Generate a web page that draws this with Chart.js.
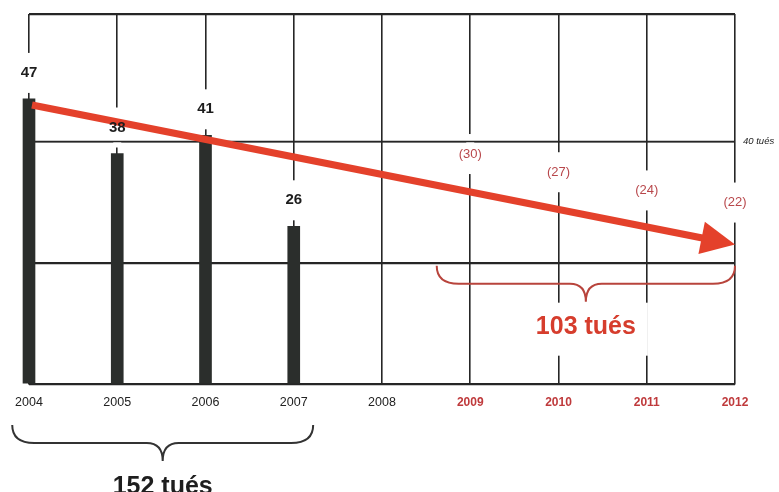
<!DOCTYPE html>
<html lang="fr">
<head>
<meta charset="utf-8">
<script src="https://cdn.jsdelivr.net/npm/chart.js@4.4.1/dist/chart.umd.min.js"></script>
<style>
  html, body { margin: 0; padding: 0; background: #fff; }
  #wrap { width: 779px; height: 492px; }
</style>
</head>
<body>
<div id="wrap"><canvas id="c" width="779" height="492"></canvas></div>
<script>
// Road deaths per year: recorded (2004-2007) and yearly targets (2009-2012)
const years = ['2004', '2005', '2006', '2007', '2008', '2009', '2010', '2011', '2012'];
const killed = [47, 38, 41, 26, null, null, null, null, null];
const targets = [null, null, null, null, null, 30, 27, 24, 22];
const trendEnds = [46, 23];            // trend arrow level in 2004 and in 2012
const gridValues = [0, 20, 40];
const yMax = 61;
const refLineValue = 40;
const refLineLabel = '40 tués';
const pastTotalLabel = '152 tués';
const futureTotalLabel = '103 tués';

const FONT = '"Liberation Sans", Arial, Helvetica, sans-serif';
const LINE = '#262626';
const BAR = '#2b2e2c';
const ARROW = '#e4412b';
const TARGET_RED = '#b8474b';
const TICK_RED = '#bf3a3c';
const BRACE_RED = '#b8443c';
const TOTAL_RED = '#d63d2d';

const firstTarget = targets.findIndex(v => v !== null);
const lastRecorded = killed.reduce((a, v, i) => (v !== null ? i : a), 0);

const BAR_LABEL_LIFT = 26;
const TARGET_LABEL_LIFT = 48;

function brace(ctx, x1, x2, top, color) {
  const mid = top + 18, tip = top + 36, xc = (x1 + x2) / 2;
  const r = 22, r2 = 16;
  ctx.save();
  ctx.strokeStyle = color;
  ctx.lineWidth = 2;
  ctx.beginPath();
  ctx.moveTo(x1, top);
  ctx.quadraticCurveTo(x1, mid, x1 + r, mid);
  ctx.lineTo(xc - r2, mid);
  ctx.quadraticCurveTo(xc, mid, xc, tip);
  ctx.quadraticCurveTo(xc, mid, xc + r2, mid);
  ctx.lineTo(x2 - r, mid);
  ctx.quadraticCurveTo(x2, mid, x2, top);
  ctx.stroke();
  ctx.restore();
}

const annotate = {
  id: 'annotate',
  beforeDatasetsDraw(chart) {
    const { ctx, chartArea } = chart;
    const x = chart.scales.x, y = chart.scales.y;
    ctx.save();
    ctx.fillStyle = '#fff';
    // breaks in the vertical rules around the value labels
    killed.forEach((v, i) => {
      if (v === null) return;
      const cy = y.getPixelForValue(v) - BAR_LABEL_LIFT;
      ctx.fillRect(x.getPixelForValue(i) - 4, cy - 20, 8, 40);
    });
    targets.forEach((v, i) => {
      if (v === null) return;
      const cy = y.getPixelForValue(v) - TARGET_LABEL_LIFT;
      ctx.fillRect(x.getPixelForValue(i) - 4, cy - 20, 8, 40);
    });
    // clear space behind the future total
    const step = x.getPixelForValue(1) - x.getPixelForValue(0);
    const bx1 = x.getPixelForValue(firstTarget) - 0.38 * step;
    const bx2 = x.getPixelForValue(years.length - 1);
    const btop = y.getPixelForValue(20) + 3;
    ctx.font = 'bold 25px ' + FONT;
    const tw = ctx.measureText(futureTotalLabel).width;
    ctx.fillRect((bx1 + bx2) / 2 - tw / 2 - 12, btop + 37, tw + 24, 53);
    // horizontal rules stay whole
    ctx.strokeStyle = LINE;
    ctx.lineWidth = 1.6;
    gridValues.concat([yMax]).forEach(v => {
      const py = Math.round(y.getPixelForValue(v)) + 0.5;
      ctx.beginPath();
      ctx.moveTo(chartArea.left, py);
      ctx.lineTo(chartArea.right, py);
      ctx.stroke();
    });
    ctx.restore();
  },
  afterDatasetsDraw(chart) {
    const { ctx, chartArea } = chart;
    const x = chart.scales.x, y = chart.scales.y;
    const step = x.getPixelForValue(1) - x.getPixelForValue(0);
    ctx.save();

    // trend arrow
    const x0 = x.getPixelForValue(0) + 3, y0 = y.getPixelForValue(trendEnds[0]);
    const x1 = x.getPixelForValue(years.length - 1), y1 = y.getPixelForValue(trendEnds[1]);
    const len = Math.hypot(x1 - x0, y1 - y0);
    const ux = (x1 - x0) / len, uy = (y1 - y0) / len;
    const headLen = 34, headHalf = 16.5;
    const bxc = x1 - ux * headLen, byc = y1 - uy * headLen;
    ctx.strokeStyle = ARROW;
    ctx.lineWidth = 7;
    ctx.lineCap = 'butt';
    ctx.beginPath();
    ctx.moveTo(x0, y0);
    ctx.lineTo(bxc + ux * 2, byc + uy * 2);
    ctx.stroke();
    ctx.fillStyle = ARROW;
    ctx.beginPath();
    ctx.moveTo(x1, y1);
    ctx.lineTo(bxc - uy * headHalf, byc + ux * headHalf);
    ctx.lineTo(bxc + uy * headHalf, byc - ux * headHalf);
    ctx.closePath();
    ctx.fill();

    // value labels
    ctx.textAlign = 'center';
    ctx.textBaseline = 'middle';
    ctx.font = 'bold 15px ' + FONT;
    ctx.fillStyle = '#1d1d1d';
    killed.forEach((v, i) => {
      if (v === null) return;
      ctx.fillText(String(v), x.getPixelForValue(i), y.getPixelForValue(v) - BAR_LABEL_LIFT);
    });
    ctx.font = '13px ' + FONT;
    ctx.fillStyle = TARGET_RED;
    targets.forEach((v, i) => {
      if (v === null) return;
      ctx.fillText('(' + v + ')', x.getPixelForValue(i), y.getPixelForValue(v) - TARGET_LABEL_LIFT);
    });

    // reference line caption
    ctx.textAlign = 'left';
    ctx.font = 'italic 9.5px ' + FONT;
    ctx.fillStyle = '#222';
    ctx.fillText(refLineLabel, chartArea.right + 8, y.getPixelForValue(refLineValue));

    // totals with braces
    const fx1 = x.getPixelForValue(firstTarget) - 0.38 * step;
    const fx2 = x.getPixelForValue(years.length - 1);
    const ftop = y.getPixelForValue(20) + 3;
    brace(ctx, fx1, fx2, ftop, BRACE_RED);
    ctx.textAlign = 'center';
    ctx.textBaseline = 'alphabetic';
    ctx.font = 'bold 25px ' + FONT;
    ctx.fillStyle = TOTAL_RED;
    ctx.fillText(futureTotalLabel, (fx1 + fx2) / 2, ftop + 68);

    const px1 = x.getPixelForValue(0) - 0.19 * step;
    const px2 = x.getPixelForValue(lastRecorded) + 0.22 * step;
    const ptop = chartArea.bottom + 41;
    brace(ctx, px1, px2, ptop, '#333');
    ctx.fillStyle = '#1e1e1e';
    ctx.fillText(pastTotalLabel, (px1 + px2) / 2, ptop + 69);

    ctx.restore();
  }
};

new Chart(document.getElementById('c'), {
  type: 'bar',
  data: {
    labels: years,
    datasets: [{
      data: killed,
      backgroundColor: BAR,
      barThickness: 12,
      clip: false
    }]
  },
  options: {
    responsive: false,
    animation: false,
    events: [],
    devicePixelRatio: 1,
    layout: { padding: { left: 29, right: 44, top: 14, bottom: 0 } },
    plugins: { legend: { display: false }, tooltip: { enabled: false } },
    scales: {
      x: {
        type: 'category',
        offset: false,
        grid: { offset: false, color: LINE, lineWidth: 1.6, drawTicks: false },
        border: { color: LINE, width: 1.6 },
        ticks: {
          padding: 11,
          autoSkip: false,
          maxRotation: 0,
          color: c => (c.index >= firstTarget ? TICK_RED : '#222'),
          font: c => (c.index >= firstTarget
            ? { family: FONT, size: 12, weight: 'bold' }
            : { family: FONT, size: 12.5 })
        },
        afterFit(s) { s.height = 108; }
      },
      y: {
        min: 0,
        max: yMax,
        afterBuildTicks(s) { s.ticks = gridValues.concat([yMax]).map(v => ({ value: v })); },
        grid: { color: LINE, lineWidth: 1.6, drawTicks: false },
        border: { display: false },
        ticks: { display: false },
        afterFit(s) { s.width = 0; }
      }
    }
  },
  plugins: [annotate]
});
</script>
</body>
</html>
